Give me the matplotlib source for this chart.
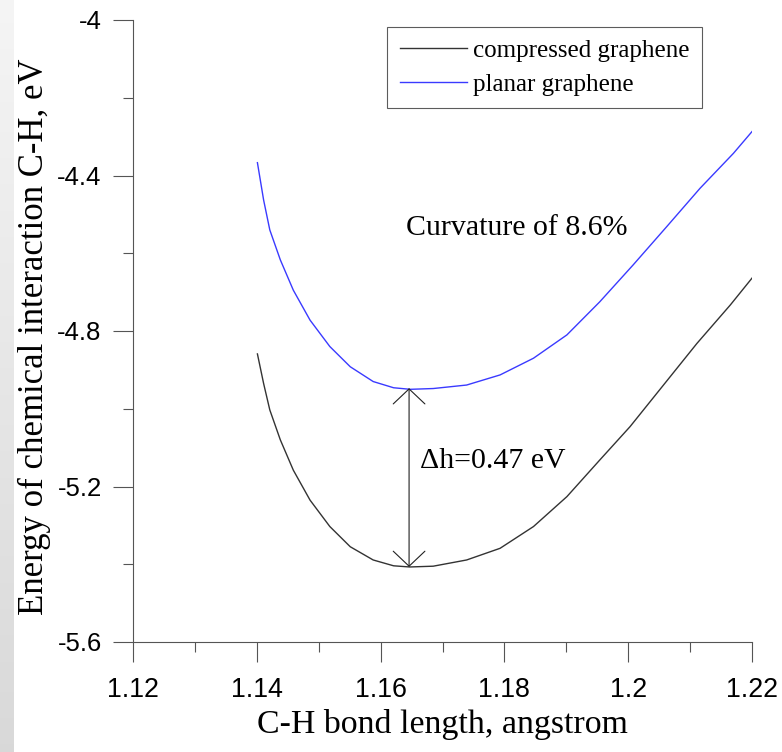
import numpy as np
import matplotlib
matplotlib.use("Agg")
import matplotlib.pyplot as plt
from matplotlib.ticker import MultipleLocator

# values
bond_planar = [1.1401, 1.1411, 1.1421, 1.1438, 1.1459, 1.1486, 1.1518, 1.1551,
               1.1588, 1.1621, 1.1648, 1.1685, 1.1739, 1.1793, 1.1847, 1.1901,
               1.1954, 1.2008, 1.2062, 1.2116, 1.2170, 1.2200]
energy_planar = [-4.367, -4.463, -4.540, -4.617, -4.695, -4.772, -4.840, -4.892,
                 -4.930, -4.946, -4.950, -4.948, -4.939, -4.913, -4.870, -4.810,
                 -4.725, -4.630, -4.532, -4.433, -4.343, -4.287]

bond_compr = [1.1401, 1.1411, 1.1421, 1.1438, 1.1459, 1.1486, 1.1518, 1.1551,
              1.1588, 1.1621, 1.1647, 1.1685, 1.1739, 1.1793, 1.1847, 1.1901,
              1.1954, 1.2003, 1.2057, 1.2111, 1.2165, 1.2200]
energy_compr = [-4.859, -4.935, -5.003, -5.080, -5.158, -5.235, -5.303, -5.355,
                -5.389, -5.404, -5.407, -5.405, -5.389, -5.359, -5.303, -5.226,
                -5.132, -5.046, -4.939, -4.832, -4.733, -4.664]

arrow_x = 1.1646
arrow_top = -4.947
arrow_bottom = -5.407

serif = "Liberation Serif"
sans = "Liberation Sans"
spine_col = "#555555"

fig = plt.figure(figsize=(7.82, 7.52), dpi=100)
ax = fig.add_axes([133 / 782, 1 - 642 / 752, (752 - 133) / 782, (642 - 20) / 752])

# grey strip on the left edge
shade = np.linspace(0.96, 0.85, 200)
strip_img = np.repeat(shade[:, None, None], 3, axis=2)
strip = fig.add_axes([0, 0, 14 / 782, 1])
strip.imshow(strip_img, aspect="auto", extent=[0, 1, 0, 1])
strip.axis("off")

ax.plot(bond_compr, energy_compr, color="#333333", lw=1.0, label="compressed graphene")
ax.plot(bond_planar, energy_planar, color="#3a3aff", lw=1.0, label="planar graphene")

ax.annotate("", xy=(arrow_x, arrow_top), xytext=(arrow_x, arrow_bottom),
            arrowprops=dict(arrowstyle="<->,head_length=0.9,head_width=0.95",
                            lw=0.8, color="#222222", shrinkA=0, shrinkB=0,
                            mutation_scale=12))

ax.text(1.1820, -4.553, "Curvature of 8.6%", family=serif, fontsize=21.5,
        ha="center", va="baseline")
ax.text(1.1664, -5.153, "\u0394h=0.47 eV", family=serif, fontsize=21.5,
        ha="left", va="baseline")

ax.set_xlim(1.12, 1.22)
ax.set_ylim(-5.6, -4.0)
ax.xaxis.set_minor_locator(MultipleLocator(0.01))
ax.yaxis.set_minor_locator(MultipleLocator(0.2))
ax.set_xticks([1.12, 1.14, 1.16, 1.18, 1.2, 1.22])
ax.set_xticklabels(["1.12", "1.14", "1.16", "1.18", "1.2", "1.22"], family=sans, fontsize=19.3)
ax.set_yticks([-5.6, -5.2, -4.8, -4.4, -4.0])
ax.set_yticklabels(["-5.6", "-5.2", "-4.8", "-4.4", "-4"], family=sans, fontsize=18.5)

for s in ["top", "right"]:
    ax.spines[s].set_visible(False)
for s in ["left", "bottom"]:
    ax.spines[s].set_color(spine_col)
    ax.spines[s].set_linewidth(0.8)
ax.tick_params(which="major", length=14.5, width=0.8, color=spine_col)
ax.tick_params(which="minor", length=7.5, width=0.8, color=spine_col)
ax.tick_params(axis="y", which="major", pad=8)
ax.tick_params(axis="x", which="major", pad=11)

ax.set_xlabel("C-H bond length, angstrom", family=serif, fontsize=24.4)
ax.xaxis.label.set_verticalalignment("baseline")
ax.xaxis.set_label_coords(0.5, -0.1463)
ax.set_ylabel("Energy of chemical interaction C-H, eV", family=serif, fontsize=25)
ax.yaxis.set_label_coords(-0.133, 0.49)

leg = ax.legend(loc="upper left", bbox_to_anchor=((387 - 133) / 619, 1 - 7 / 622),
                prop={"family": serif, "size": 18}, frameon=True, fancybox=False,
                edgecolor="#333333", handlelength=2.7, handletextpad=0.25,
                borderpad=0.5, labelspacing=0.45, borderaxespad=0)
leg.get_frame().set_linewidth(0.8)

fig.savefig("out.png", dpi=100)
